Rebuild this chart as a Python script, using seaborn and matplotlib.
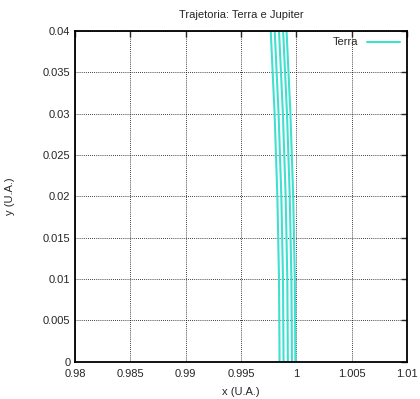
import pandas as pd
import numpy as np
import matplotlib.pyplot as plt
import seaborn as sns
from matplotlib.lines import Line2D

# y positions sampled along each pass of the orbit
y_pts = [-0.005, 0.0, 0.01, 0.02, 0.03, 0.04, 0.045]

# x for each pass (5 passes, slowly drifting)
passe1 = [0.99847, 0.99848, 0.99843, 0.99828, 0.99803, 0.99768, 0.99747]
passe2 = [0.99883, 0.99884, 0.99879, 0.99864, 0.99839, 0.99804, 0.99783]
passe3 = [0.99922, 0.99923, 0.99918, 0.99903, 0.99878, 0.99843, 0.99822]
passe4 = [0.99959, 0.99960, 0.99955, 0.99940, 0.99915, 0.99880, 0.99859]
passe5 = [0.99990, 0.99991, 0.99986, 0.99971, 0.99946, 0.99911, 0.99890]

x_ticks = [0.98, 0.985, 0.99, 0.995, 1.0, 1.005, 1.01]
y_ticks = [0, 0.005, 0.01, 0.015, 0.02, 0.025, 0.03, 0.035, 0.04]

passes = [passe1, passe2, passe3, passe4, passe5]
rows = []
for i, p in enumerate(passes):
    for xv, yv in zip(p, y_pts):
        rows.append({"passe": i, "x": xv, "y": yv})
terra = pd.DataFrame(rows)

sns.set_style("white")
plt.rcParams["font.family"] = ["Liberation Sans", "DejaVu Sans"]

fig = plt.figure(figsize=(4.2, 3.99), dpi=100)
ax = fig.add_axes([0.179, 0.093, 0.790, 0.830])

cor = "#40e0d0"
sns.lineplot(data=terra, x="x", y="y", units="passe", estimator=None,
             sort=False, color=cor, lw=1.5, legend=False, ax=ax)

ax.set_xlim(0.98, 1.01)
ax.set_ylim(0, 0.04)
ax.set_xticks(x_ticks)
ax.set_yticks(y_ticks)
ax.set_xticklabels(["%g" % v for v in x_ticks])
ax.set_yticklabels(["%g" % v for v in y_ticks])
ax.tick_params(direction="in", top=True, right=True, labelsize=8, length=4, width=1)
ax.tick_params(axis="x", pad=5)
ax.grid(True, color="black", linestyle=(0, (1, 1.5)), lw=0.6)
for s in ax.spines.values():
    s.set_linewidth(1.3)
    s.set_color("black")

ax.set_xlabel("x (U.A.)", fontsize=8, labelpad=6)
ax.set_ylabel("y (U.A.)", fontsize=8, labelpad=20)
ax.set_title("Trajetoria: Terra e Jupiter", fontsize=8, pad=9)

h = [Line2D([], [], color=cor, lw=1.5)]
ax.legend(h, ["Terra"], loc="upper right", frameon=False, markerfirst=False,
          fontsize=8, handlelength=3, borderaxespad=0.2)

fig.savefig("out.png", dpi=100)
